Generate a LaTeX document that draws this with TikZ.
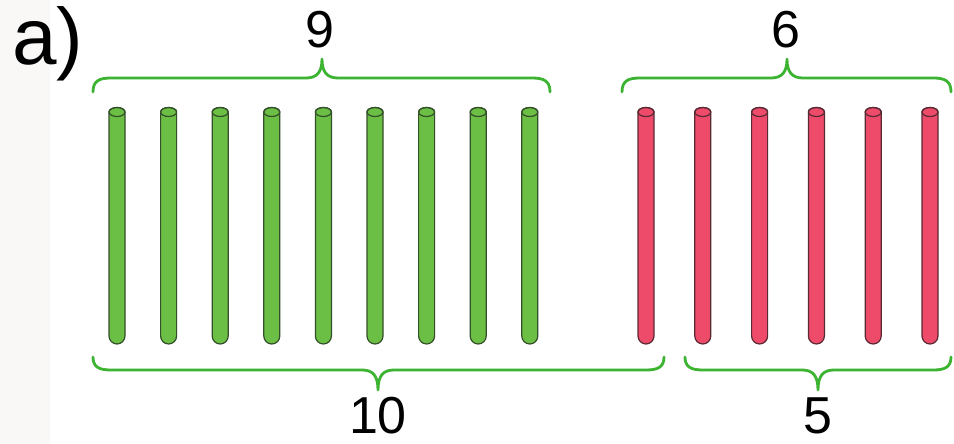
\documentclass[tikz,border=0pt]{standalone}
\usepackage{fontspec}
\setmainfont{Liberation Sans}
\definecolor{bracegreen}{HTML}{3CB432}
\definecolor{stickgreen}{HTML}{6CBF45}
\definecolor{edgegreen}{HTML}{34502A}
\definecolor{stickred}{HTML}{EE4B6A}
\definecolor{edgered}{HTML}{5A2A34}
\definecolor{leftgrey}{HTML}{F9F8F6}
\tikzset{
  brace/.style={draw=bracegreen, line width=2.8pt, line cap=round, line join=round},
  numlabel/.style={font=\fontsize{52}{58}\selectfont, anchor=base, inner sep=0pt},
  greenstick/.style={fill=stickgreen, draw=edgegreen, line width=1.2pt},
  redstick/.style={fill=stickred, draw=edgered, line width=1.2pt}
}
\newcommand{\stick}[2]{%
  \path[#2] (#1-8,-112) -- (#1-8,-336) arc[start angle=180,end angle=360,radius=8] -- (#1+8,-112) arc[start angle=0,end angle=180,x radius=8,y radius=4.5] -- cycle;
  \draw[#2, fill=none] (#1,-112) ellipse[x radius=8,y radius=4.5];
}
% top brace: #1 left x, #2 tip x, #3 right x
\newcommand{\topbrace}[3]{%
  \draw[brace] (#1,-92) .. controls (#1,-81) and (#1+6,-78) .. (#1+18,-78) -- (#2-16,-78) .. controls (#2-5,-78) and (#2,-72) .. (#2,-59)
    .. controls (#2,-72) and (#2+5,-78) .. (#2+16,-78) -- (#3-18,-78) .. controls (#3-6,-78) and (#3,-81) .. (#3,-92);
}
\newcommand{\botbrace}[3]{%
  \draw[brace] (#1,-357) .. controls (#1,-367) and (#1+6,-370) .. (#1+18,-370) -- (#2-16,-370) .. controls (#2-5,-370) and (#2,-376) .. (#2,-390)
    .. controls (#2,-376) and (#2+5,-370) .. (#2+16,-370) -- (#3-18,-370) .. controls (#3-6,-370) and (#3,-367) .. (#3,-357);
}
\begin{document}
\begin{tikzpicture}[x=1pt,y=1pt]
\useasboundingbox (0,0) rectangle (954,-444);
\fill[white] (0,0) rectangle (954,-444);
\fill[leftgrey] (0,0) rectangle (50,-444);
\node[anchor=base west, inner sep=0pt, font=\fontsize{80}{90}\selectfont] (lbl) at (12,-65) {a)};
\foreach \i in {0,...,8}{
  \pgfmathsetmacro{\cx}{117+51.6*\i}
  \stick{\cx}{greenstick}
}
\foreach \i in {0,...,5}{
  \pgfmathsetmacro{\cx}{646+56.8*\i}
  \stick{\cx}{redstick}
}
\topbrace{93}{322}{550}
\topbrace{622}{787}{951}
\botbrace{93}{378}{664}
\botbrace{685}{818}{951}
\node[numlabel] (n9) at (320,-48) {9};
\node[numlabel] (n6) at (786,-48) {6};
\node[numlabel] (n10) at (378,-433) {10};
\node[numlabel] (n5) at (818,-433) {5};
\end{tikzpicture}
\end{document}
